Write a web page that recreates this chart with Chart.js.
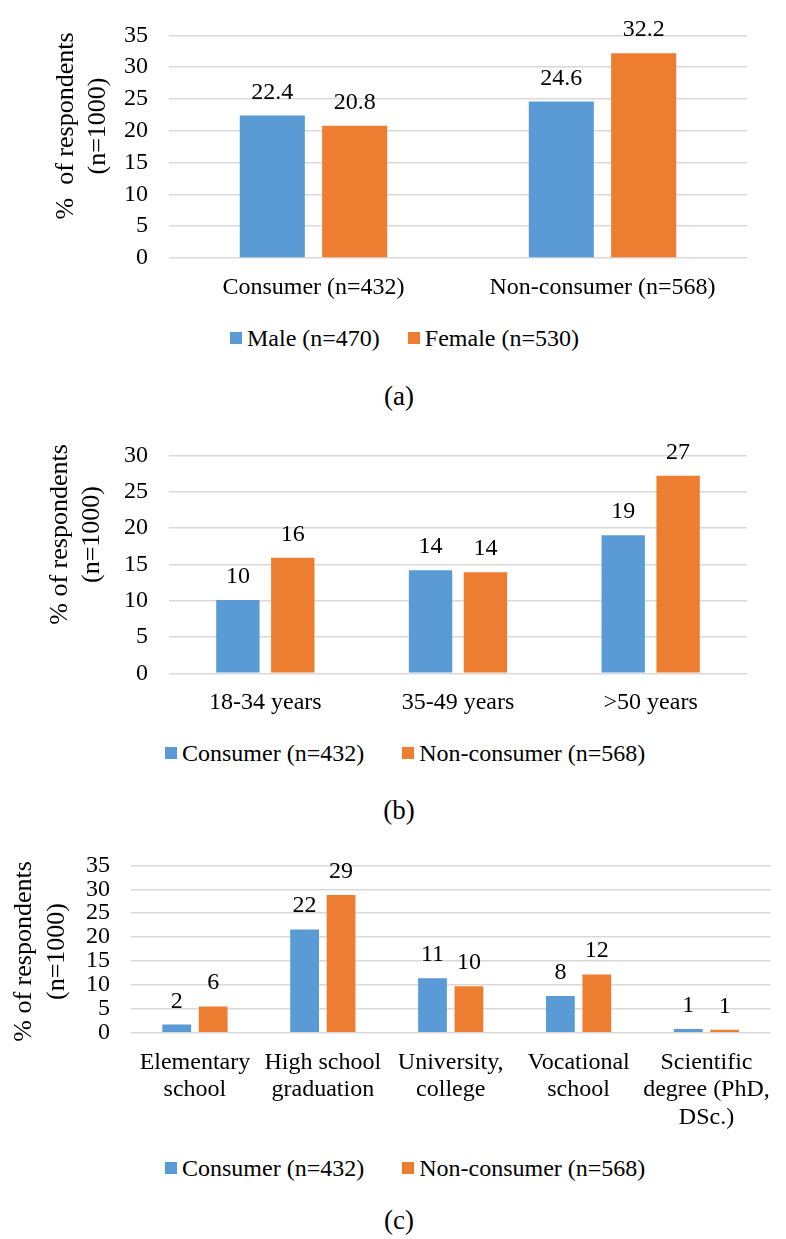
<!DOCTYPE html>
<html>
<head>
<meta charset="utf-8">
<title>Respondents by gender, age and education</title>
<script src="https://cdn.jsdelivr.net/npm/chart.js@4/dist/chart.umd.min.js"></script>
<style>
  html, body { margin: 0; padding: 0; background: #fff; }
  body {
    width: 786px; height: 1239px; position: relative; overflow: hidden;
    font-family: 'Liberation Serif', serif; color: #000;
  }
  .panel { position: absolute; left: 0; width: 786px; }
  .panel canvas { display: block; }
  .legend {
    position: absolute; display: flex; align-items: center;
    font-family: 'Liberation Serif', serif;
    font-size: 24px; line-height: 28px; white-space: nowrap;
  }
  .legend .item { display: flex; align-items: center; }
  .legend .swatch { width: 12px; height: 12px; margin-right: 5px; flex: none; }
  .caption {
    position: absolute; left: 0; width: 798px; text-align: center;
    font-family: 'Liberation Serif', serif;
    font-size: 27px; line-height: 30px;
  }
</style>
</head>
<body>

<div class="panel" style="top:0;height:320px"><canvas id="chartA" width="786" height="320"></canvas></div>
<div class="legend" id="legendA" style="left:230px;top:324px"></div>
<div class="caption" style="top:381px">(a)</div>

<div class="panel" style="top:420px;height:310px"><canvas id="chartB" width="786" height="310"></canvas></div>
<div class="legend" id="legendB" style="left:165px;top:739px"></div>
<div class="caption" style="top:795px">(b)</div>

<div class="panel" style="top:830px;height:310px"><canvas id="chartC" width="786" height="310"></canvas></div>
<div class="legend" id="legendC" style="left:165px;top:1154px"></div>
<div class="caption" style="top:1205px">(c)</div>

<script>
// ---- data ----
const genderCategories = ['Consumer (n=432)', 'Non-consumer (n=568)'];
const genderSeries = ['Male (n=470)', 'Female (n=530)'];
const maleValues = [22.4, 24.6];
const femaleValues = [20.8, 32.2];

const ageCategories = ['18-34 years', '35-49 years', '>50 years'];
const consumerSeries = ['Consumer (n=432)', 'Non-consumer (n=568)'];
const ageConsumer = [10.1, 14.2, 19.0];
const ageNonConsumer = [15.9, 13.9, 27.2];

const educationCategories = [
  ['Elementary', 'school'],
  ['High school', 'graduation'],
  ['University,', 'college'],
  ['Vocational', 'school'],
  ['Scientific', 'degree (PhD,', 'DSc.)']
];
const eduConsumer = [1.7, 21.6, 11.4, 7.7, 0.8];
const eduNonConsumer = [5.5, 28.8, 9.7, 12.2, 0.6];

const yTitleGender = ['%  of respondents', '(n=1000)'];
const yTitleOther = ['% of respondents', '(n=1000)'];
const yMaxGender = 35, yMaxAge = 30, yMaxEdu = 35, yStep = 5;

// ---- styling ----
const BLUE = '#5b9bd5';
const ORANGE = '#ed7d31';
const GRID = '#d9d9d9';
const SERIF = "'Liberation Serif', serif";
Chart.defaults.font.family = SERIF;
Chart.defaults.color = '#000';

// Numbers printed above each bar
const valueLabels = {
  id: 'valueLabels',
  afterDatasetsDraw(chart, args, opts) {
    const ctx = chart.ctx;
    ctx.save();
    ctx.font = opts.size + 'px ' + SERIF;
    ctx.fillStyle = '#000';
    ctx.textAlign = 'center';
    ctx.textBaseline = 'alphabetic';
    chart.data.datasets.forEach((ds, i) => {
      chart.getDatasetMeta(i).data.forEach((bar, j) => {
        ctx.fillText(ds.data[j].toFixed(opts.decimals), bar.x, bar.y - opts.offset);
      });
    });
    ctx.restore();
  }
};

// Two-line rotated title beside the value axis
const sideTitle = {
  id: 'sideTitle',
  afterDraw(chart, args, opts) {
    const ctx = chart.ctx;
    ctx.save();
    ctx.font = opts.size + 'px ' + SERIF;
    ctx.fillStyle = '#000';
    ctx.textAlign = 'center';
    ctx.textBaseline = 'middle';
    opts.lines.forEach((line, k) => {
      ctx.save();
      ctx.translate(opts.x[k], opts.y);
      ctx.rotate(-Math.PI / 2);
      ctx.fillText(line, 0, 0);
      ctx.restore();
    });
    ctx.restore();
  }
};

// Legend rendered as HTML below each chart
const htmlLegend = {
  id: 'htmlLegend',
  afterUpdate(chart, args, opts) {
    const box = document.getElementById(opts.containerID);
    box.innerHTML = '';
    const items = chart.options.plugins.legend.labels.generateLabels(chart);
    items.forEach((item, k) => {
      const el = document.createElement('span');
      el.className = 'item';
      if (k > 0) el.style.marginLeft = opts.gap + 'px';
      const sw = document.createElement('span');
      sw.className = 'swatch';
      sw.style.background = item.fillStyle;
      const tx = document.createElement('span');
      tx.textContent = item.text;
      el.appendChild(sw);
      el.appendChild(tx);
      box.appendChild(el);
    });
  }
};

function makeChart(id, cfg) {
  return new Chart(document.getElementById(id), {
    type: 'bar',
    data: {
      labels: cfg.labels,
      datasets: [
        { label: cfg.series[0], data: cfg.values[0], backgroundColor: BLUE },
        { label: cfg.series[1], data: cfg.values[1], backgroundColor: ORANGE }
      ]
    },
    options: {
      responsive: false,
      animation: false,
      events: [],
      categoryPercentage: 0.57,
      barPercentage: 0.79,
      layout: { padding: { top: cfg.top, right: cfg.right, left: 0, bottom: 0 } },
      scales: {
        x: {
          grid: { display: false, drawTicks: false },
          border: { display: false },
          ticks: {
            color: '#000', padding: 16, autoSkip: false, maxRotation: 0, minRotation: 0,
            font: { family: SERIF, size: 24, lineHeight: 1.15 }
          },
          afterFit(scale) { scale.height = cfg.xHeight; }
        },
        y: {
          min: 0, max: cfg.yMax,
          grid: { color: GRID, lineWidth: 1.5, drawTicks: false },
          border: { display: false },
          ticks: {
            stepSize: yStep, autoSkip: false, color: '#000', padding: 21,
            font: { family: SERIF, size: 24 }
          },
          afterFit(scale) { scale.width = cfg.yWidth; }
        }
      },
      plugins: {
        legend: { display: false },
        tooltip: { enabled: false },
        valueLabels: { decimals: cfg.decimals, size: 24, offset: 17 },
        sideTitle: { lines: cfg.title, x: cfg.titleX, y: cfg.titleY, size: 26 },
        htmlLegend: { containerID: cfg.legendID, gap: cfg.legendGap }
      }
    },
    plugins: [valueLabels, sideTitle, htmlLegend]
  });
}

makeChart('chartA', {
  labels: genderCategories, series: genderSeries, values: [maleValues, femaleValues],
  yMax: yMaxGender, top: 26, right: 39, yWidth: 169, xHeight: 62,
  decimals: 1,
  title: yTitleGender, titleX: [66, 98], titleY: 126,
  legendID: 'legendA', legendGap: 28
});

makeChart('chartB', {
  labels: ageCategories, series: consumerSeries, values: [ageConsumer, ageNonConsumer],
  yMax: yMaxAge, top: 21.7, right: 39, yWidth: 169, xHeight: 56.7,
  decimals: 0,
  title: yTitleOther, titleX: [60, 92], titleY: 114.5,
  legendID: 'legendB', legendGap: 38
});

makeChart('chartC', {
  labels: educationCategories, series: consumerSeries, values: [eduConsumer, eduNonConsumer],
  yMax: yMaxEdu, top: 26, right: 2, yWidth: 131, xHeight: 107.3,
  decimals: 0,
  title: yTitleOther, titleX: [24.5, 57], titleY: 121.5,
  legendID: 'legendC', legendGap: 38
});
</script>
</body>
</html>
